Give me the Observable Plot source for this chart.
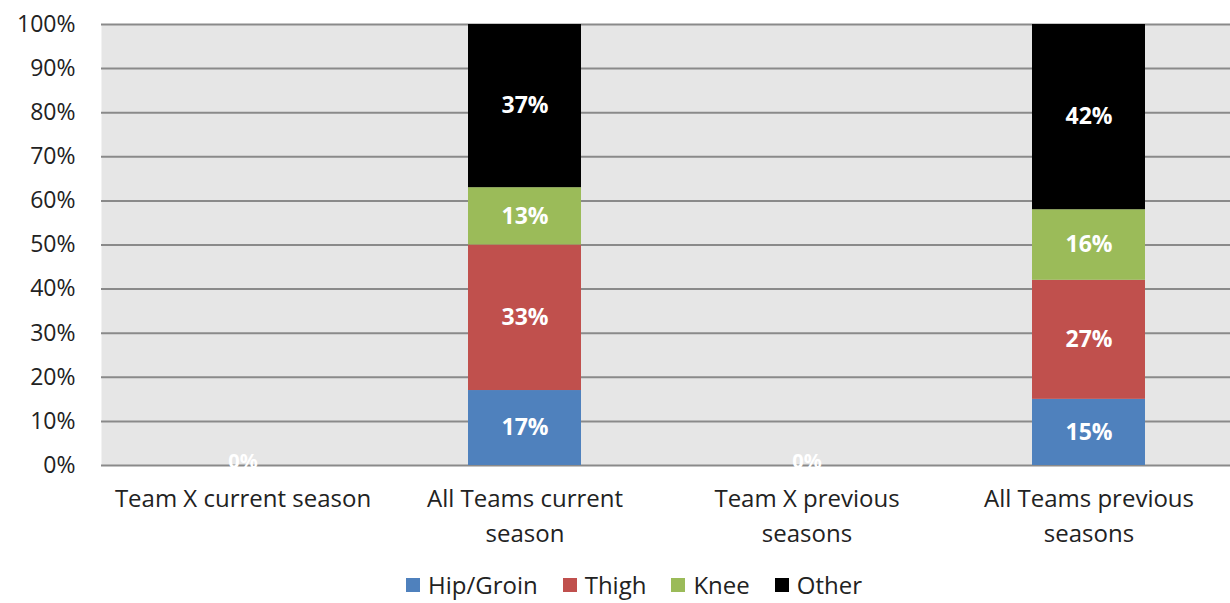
<!DOCTYPE html>
<html>
<head>
<meta charset="utf-8">
<script src="https://cdn.jsdelivr.net/npm/d3@7"></script>
<script src="https://cdn.jsdelivr.net/npm/@observablehq/plot@0.6"></script>
<style>
  body { margin: 0; background: #fff; font-family: "Open Sans", sans-serif; }
  #legend { display: flex; justify-content: center; gap: 25px; font-size: 24px; color: #222; margin-left: 38px; margin-top: 6px; line-height: 1.2; }
  #legend span.item { display: flex; align-items: center; gap: 8px; }
  #legend span.sw { width: 14px; height: 14px; display: inline-block; }
</style>
</head>
<body>
<div id="chart"></div>
<div id="legend"></div>
<script>
const categories = ["Team X current season", "All Teams current season", "Team X previous seasons", "All Teams previous seasons"];
const categoryLabels = ["Team X current season", "All Teams current\nseason", "Team X previous\nseasons", "All Teams previous\nseasons"];
const series = ["Hip/Groin", "Thigh", "Knee", "Other"];
const colors = ["#4f81bd", "#c0504d", "#9bbb59", "#000000"];
const hipGroin = [0, 0.17, 0, 0.15];
const thigh = [0, 0.33, 0, 0.27];
const knee = [0, 0.13, 0, 0.16];
const other = [0, 0.37, 0, 0.42];
const yTicks = [0, 0.1, 0.2, 0.3, 0.4, 0.5, 0.6, 0.7, 0.8, 0.9, 1.0];

const valuesBySeries = [hipGroin, thigh, knee, other];
const rows = [];
categories.forEach((c, i) => {
  let acc = 0;
  series.forEach((s, j) => {
    const v = valuesBySeries[j][i];
    rows.push({category: c, series: s, value: v, y1: acc, y2: acc + v, mid: acc + v / 2});
    acc += v;
  });
});
const zeroLabels = categories.filter((c, i) => hipGroin[i] + thigh[i] + knee[i] + other[i] === 0).map(c => ({category: c}));

const plot = Plot.plot({
  width: 1230,
  height: 565,
  marginLeft: 101,
  marginRight: 0,
  marginTop: 24,
  marginBottom: 100,
  style: {fontFamily: "Open Sans, sans-serif", fontSize: "23px", color: "#222"},
  x: {domain: categories, paddingInner: 0.6, paddingOuter: 0.3, label: null},
  y: {domain: [0, 1], label: null},
  color: {domain: series, range: colors},
  marks: [
    Plot.frame({fill: "#e6e6e6", stroke: null}),
    Plot.ruleY(yTicks, {stroke: "#8a8a8a", strokeWidth: 2}),
    Plot.rectY(rows, {x: "category", y1: "y1", y2: "y2", fill: "series"}),
    Plot.text(rows.filter(d => d.value > 0), {x: "category", y: "mid", text: d => d3.format(".0%")(d.value),
      fill: "white", fontWeight: "bold", fontSize: 23}),
    Plot.text(zeroLabels, {x: "category", y: 0, text: () => "0%", fill: "white", fontWeight: "bold", fontSize: 20, dy: -4}),
    Plot.axisX({tickSize: 0, tickPadding: 17, fontSize: 24, lineHeight: 1.46,
      tickFormat: (d) => categoryLabels[categories.indexOf(d)], textAnchor: "middle"}),
    Plot.axisY({ticks: yTicks, tickFormat: d3.format(".0%"), tickSize: 0, tickPadding: 26, fontSize: 23})
  ]
});
document.getElementById("chart").appendChild(plot);

const legend = document.getElementById("legend");
series.forEach((s, j) => {
  const item = document.createElement("span");
  item.className = "item";
  const sw = document.createElement("span");
  sw.className = "sw";
  sw.style.background = colors[j];
  item.appendChild(sw);
  item.appendChild(document.createTextNode(s));
  legend.appendChild(item);
});
</script>
</body>
</html>
